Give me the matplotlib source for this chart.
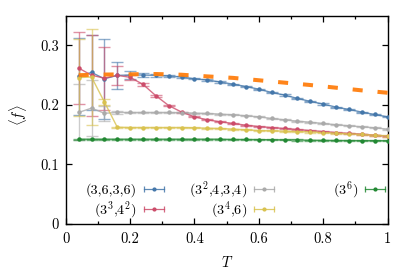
import matplotlib
matplotlib.use("Agg")
import matplotlib.pyplot as plt
from matplotlib.lines import Line2D
from matplotlib.legend_handler import HandlerBase
from matplotlib.ticker import MultipleLocator

plt.rcParams['font.family'] = ['cmr10', 'DejaVu Serif']
plt.rcParams['mathtext.fontset'] = 'cm'
plt.rcParams['axes.formatter.use_mathtext'] = True

# ---------------- data ----------------
T = [0.04, 0.08, 0.12, 0.16, 0.20, 0.24, 0.28, 0.32, 0.36, 0.40, 0.44, 0.48, 0.52,
     0.56, 0.60, 0.64, 0.68, 0.72, 0.76, 0.80, 0.84, 0.88, 0.92, 0.96, 1.00]

f_3636 = [0.248, 0.2547, 0.244, 0.2497, 0.2503, 0.2503, 0.2497, 0.2486, 0.247, 0.244,
          0.2419, 0.2385, 0.235, 0.231, 0.2265, 0.221, 0.2166, 0.211, 0.206, 0.2015,
          0.1964, 0.1925, 0.188, 0.184, 0.180]
e_3636 = [0.065, 0.063, 0.067, 0.023, 0.006, 0.003, 0.002, 0.0015, 0.001, 0.001,
          0.001, 0.001, 0.001, 0.001, 0.001, 0.001, 0.001, 0.001, 0.001, 0.001,
          0.001, 0.001, 0.001, 0.001, 0.001]

f_3342 = [0.262, 0.250, 0.245, 0.2497, 0.2465, 0.2346, 0.2155, 0.199, 0.188, 0.180,
          0.175, 0.1717, 0.1689, 0.166, 0.1638, 0.162, 0.1605, 0.1588, 0.157, 0.1554,
          0.1537, 0.1522, 0.151, 0.1493, 0.1476]
e_3342 = [0.061, 0.068, 0.053, 0.016, 0.004, 0.002, 0.002, 0.001, 0.001, 0.001,
          0.001, 0.001, 0.001, 0.001, 0.001, 0.001, 0.001, 0.001, 0.001, 0.001,
          0.001, 0.001, 0.001, 0.001, 0.001]

f_32434 = [0.1874, 0.1947, 0.186, 0.1874, 0.1874, 0.1874, 0.1874, 0.1874, 0.187, 0.1863,
           0.1858, 0.1846, 0.1835, 0.1818, 0.180, 0.1773, 0.175, 0.1728, 0.171, 0.1689,
           0.1667, 0.165, 0.1633, 0.1616, 0.1594]
e_32434 = [0.047, 0.047, 0.013, 0.002, 0.0015, 0.001, 0.001, 0.001, 0.001, 0.001,
           0.001, 0.001, 0.001, 0.001, 0.001, 0.001, 0.001, 0.001, 0.001, 0.001,
           0.001, 0.001, 0.001, 0.001, 0.001]

f_346 = [0.246, 0.247, 0.205, 0.1627, 0.1621, 0.1621, 0.1621, 0.1621, 0.1621, 0.1616,
         0.161, 0.1605, 0.1594, 0.1583, 0.157, 0.1565, 0.156, 0.1554, 0.1545, 0.1537,
         0.1526, 0.1515, 0.1505, 0.1493, 0.148]
e_346 = [0.065, 0.081, 0.005, 0.001, 0.001, 0.001, 0.001, 0.001, 0.001, 0.001,
         0.001, 0.001, 0.001, 0.001, 0.001, 0.001, 0.001, 0.001, 0.001, 0.001,
         0.001, 0.001, 0.001, 0.001, 0.001]

f_36 = [0.1425, 0.1425, 0.1425, 0.1425, 0.1425, 0.1425, 0.1425, 0.1425, 0.1425, 0.1425,
        0.1425, 0.1425, 0.142, 0.142, 0.1418, 0.1415, 0.1413, 0.141, 0.1408, 0.1405,
        0.1403, 0.1402, 0.140, 0.140, 0.1398]
e_36 = [0.001] * 25

T_ref = [0.04, 0.10, 0.20, 0.28, 0.36, 0.44, 0.52, 0.60, 0.68, 0.76, 0.84, 0.92, 1.00]
f_ref = [0.250, 0.251, 0.2515, 0.252, 0.2508, 0.248, 0.2455, 0.2415, 0.2375, 0.2335,
         0.229, 0.2245, 0.2205]

labels = ['(3,6,3,6)', '(3$^3$,4$^2$)', '(3$^2$,4,3,4)', '(3$^4$,6)', '(3$^6$)']
colors = ['#4477AA', '#CC4C6A', '#AAAAAA', '#D9C24F', '#228833']

xticks = [0, 0.2, 0.4, 0.6, 0.8, 1.0]
xticklabels = ['0', '0.2', '0.4', '0.6', '0.8', '1']
yticks = [0, 0.1, 0.2, 0.3]
yticklabels = ['0', '0.1', '0.2', '0.3']

# ---------------- figure ----------------
fig = plt.figure(figsize=(4.11, 2.74), dpi=100)
ax = fig.add_axes([0.16, 0.1825, 0.783, 0.7602])

FS = 10.5
LFS = 10.2

ax.plot(T_ref, f_ref, color='#FF7F0E', lw=2.9, dashes=(2.5, 3.7), alpha=0.95,
        solid_capstyle='butt', dash_capstyle='butt', zorder=5)

series = [f_3636, f_3342, f_32434, f_346, f_36]
errs = [e_3636, e_3342, e_32434, e_346, e_36]
handles = []
for y, e, c in zip(series, errs, colors):
    ax.errorbar(T, y, yerr=e, fmt='none', ecolor=c, elinewidth=1.0, capsize=4,
                capthick=1.0, alpha=0.6, zorder=2)
    ax.plot(T, y, color=c, lw=1.0, alpha=0.8, zorder=3)
    ax.plot(T, y, ls='none', marker='o', ms=2.2, color=c, zorder=4)
    handles.append(Line2D([], [], color=c))


class ErrHandler(HandlerBase):
    def create_artists(self, legend, orig_handle, xdescent, ydescent, width,
                       height, fontsize, trans):
        c = orig_handle.get_color()
        y = height / 2 - ydescent
        x0 = -xdescent
        x1 = x0 + width
        ln = Line2D([x0, x1], [y, y], color=c, lw=0.9, alpha=0.85)
        caps = Line2D([x0, x1], [y, y], ls='none', marker='|', ms=4.5, mew=0.9,
                      color=c, alpha=0.85)
        dot = Line2D([(x0 + x1) / 2], [y], ls='none', marker='o', ms=2.0, color=c)
        for a in (ln, caps, dot):
            a.set_transform(trans)
        return [ln, caps, dot]


# legend layout: (entry index, column right edge, row centre) in axes fractions
leg_slots = [(0, 0.305, 0.163), (1, 0.305, 0.067), (2, 0.647, 0.163),
             (3, 0.647, 0.067), (4, 0.992, 0.163)]
for i, xr, yc in leg_slots:
    leg = ax.legend([handles[i]], [labels[i]], loc='center right',
                    bbox_to_anchor=(xr, yc), frameon=False, markerfirst=False,
                    fontsize=LFS, handler_map={Line2D: ErrHandler()},
                    handlelength=1.4, handletextpad=0.52, borderpad=0,
                    borderaxespad=0)
    if i != 4:
        ax.add_artist(leg)

ax.set_xlim(0, 1)
ax.set_ylim(0, 0.35)
ax.set_xticks(xticks, labels=xticklabels)
ax.set_yticks(yticks, labels=yticklabels)
ax.xaxis.set_minor_locator(MultipleLocator(0.1))
ax.tick_params(which='both', direction='in', top=True, right=True, labelsize=FS)
ax.tick_params(which='major', length=4, width=0.9)
ax.tick_params(which='minor', length=2.2, width=0.9)
ax.tick_params(axis='x', pad=6)
ax.tick_params(axis='y', pad=5)
for s in ax.spines.values():
    s.set_linewidth(1.0)

ax.set_xlabel('$T$', fontsize=FS)
ax.set_ylabel(r'$\langle f\rangle$', fontsize=FS, va='center')
ax.xaxis.set_label_coords(0.5, -0.15)
ax.yaxis.set_label_coords(-0.148, 0.52)

fig.savefig('out.png', dpi=100)
